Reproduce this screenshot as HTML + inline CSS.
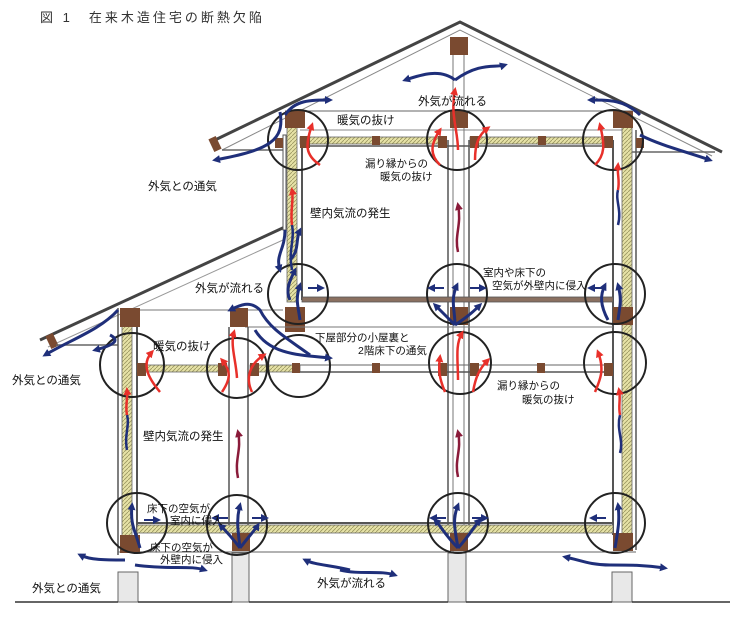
<!DOCTYPE html>
<html><head><meta charset="utf-8">
<style>
html,body{margin:0;padding:0;background:#fff;}
svg{display:block;}
text{font-family:"Liberation Sans","Noto Sans CJK JP",sans-serif;font-size:11.5px;fill:#111;}
</style></head><body>
<svg width="750" height="625" viewBox="0 0 750 625" xmlns="http://www.w3.org/2000/svg">
<defs>
<pattern id="ins" width="4" height="4" patternUnits="userSpaceOnUse">
<rect width="4" height="4" fill="#e6e2a6"/><path d="M0 4L4 0" stroke="#9a9660" stroke-width="0.8"/>
</pattern>
<marker id="ab" markerWidth="8" markerHeight="8" refX="5" refY="4" orient="auto" markerUnits="userSpaceOnUse"><path d="M0 0L8 4L0 8z" fill="#1f2f7a"/></marker>
<marker id="ar" markerWidth="8" markerHeight="8" refX="5" refY="4" orient="auto" markerUnits="userSpaceOnUse"><path d="M0 0L8 4L0 8z" fill="#e8302a"/></marker>
<marker id="am" markerWidth="8" markerHeight="8" refX="5" refY="4" orient="auto" markerUnits="userSpaceOnUse"><path d="M0 0L8 4L0 8z" fill="#8a1b3a"/></marker>
</defs>

<text x="40" y="22" style="font-size:13px;letter-spacing:3px;fill:#333">図 1　在来木造住宅の断熱欠陥</text>

<!-- main roof -->
<path d="M215 140 L460 22 L722 152" fill="none" stroke="#444" stroke-width="3"/>
<path d="M222 150 L460 30 L712 156" fill="none" stroke="#888" stroke-width="1"/>
<rect x="211" y="137" width="8" height="14" fill="#7a4a30" transform="rotate(-25 215 144)"/>
<line x1="222" y1="150" x2="285" y2="150" stroke="#666" stroke-width="1.5"/>
<line x1="632" y1="152" x2="715" y2="152" stroke="#666" stroke-width="1.5"/>
<!-- lower roof -->
<path d="M40 340 L287 226" fill="none" stroke="#444" stroke-width="3"/>
<path d="M48 347 L283 240" fill="none" stroke="#999" stroke-width="1"/>
<rect x="48" y="334" width="8" height="14" fill="#7a4a30" transform="rotate(-25 52 341)"/>
<line x1="56" y1="345" x2="118" y2="345" stroke="#666" stroke-width="1.5"/>

<!-- upper attic lines -->
<line x1="285" y1="111" x2="632" y2="111" stroke="#666" stroke-width="1"/>
<line x1="300" y1="130" x2="632" y2="130" stroke="#888" stroke-width="1"/>
<line x1="453" y1="40" x2="453" y2="600" stroke="#777" stroke-width="1"/>
<line x1="464" y1="40" x2="464" y2="600" stroke="#777" stroke-width="1"/>
<rect x="450" y="37" width="18" height="18" fill="#7a4a30"/>

<!-- upper walls -->
<rect x="283" y="135" width="3" height="95" fill="#fff" stroke="#555" stroke-width="1"/>
<rect x="287" y="127" width="10" height="175" fill="url(#ins)" stroke="#666" stroke-width="0.8"/>
<line x1="302" y1="140" x2="302" y2="300" stroke="#555" stroke-width="2"/>
<line x1="613" y1="140" x2="613" y2="535" stroke="#555" stroke-width="2"/>
<rect x="622" y="127" width="10" height="408" fill="url(#ins)" stroke="#666" stroke-width="0.8"/>
<line x1="636" y1="130" x2="636" y2="550" stroke="#555" stroke-width="1.5"/>
<line x1="448" y1="140" x2="448" y2="535" stroke="#555" stroke-width="1.5"/>
<line x1="469" y1="140" x2="469" y2="535" stroke="#555" stroke-width="1.5"/>
<rect x="285" y="111" width="20" height="17" fill="#7a4a30"/>
<rect x="450" y="111" width="18" height="17" fill="#7a4a30"/>
<rect x="613" y="111" width="20" height="17" fill="#7a4a30"/>
<!-- ceiling insulation -->
<rect x="300" y="137" width="146" height="7" fill="url(#ins)" stroke="#666" stroke-width="0.8"/>
<rect x="470" y="137" width="142" height="7" fill="url(#ins)" stroke="#666" stroke-width="0.8"/>
<line x1="300" y1="146" x2="613" y2="146" stroke="#555" stroke-width="1.5"/>
<rect x="300" y="136" width="10" height="12" fill="#7a4a30"/><rect x="372" y="136" width="8" height="9" fill="#7a4a30"/>
<rect x="438" y="136" width="9" height="12" fill="#7a4a30"/><rect x="470" y="136" width="9" height="12" fill="#7a4a30"/>
<rect x="538" y="136" width="8" height="9" fill="#7a4a30"/><rect x="604" y="136" width="9" height="12" fill="#7a4a30"/>
<rect x="275" y="138" width="8" height="10" fill="#7a4a30"/><rect x="636" y="138" width="8" height="10" fill="#7a4a30"/>
<!-- upper floor -->
<rect x="302" y="297" width="311" height="5" fill="#8a7060" stroke="#555" stroke-width="0.8"/>
<rect x="285" y="307" width="20" height="25" fill="#7a4a30"/>
<rect x="450" y="307" width="18" height="18" fill="#7a4a30"/>
<rect x="613" y="307" width="20" height="18" fill="#7a4a30"/>
<line x1="245" y1="327" x2="613" y2="327" stroke="#777" stroke-width="1"/>
<line x1="140" y1="310" x2="283" y2="310" stroke="#777" stroke-width="1"/>

<!-- lower story -->
<line x1="118" y1="308" x2="118" y2="555" stroke="#555" stroke-width="1.5"/>
<rect x="122" y="325" width="10" height="212" fill="url(#ins)" stroke="#666" stroke-width="0.8"/>
<line x1="137" y1="327" x2="137" y2="535" stroke="#555" stroke-width="2"/>
<rect x="120" y="308" width="20" height="19" fill="#7a4a30"/>
<line x1="229" y1="327" x2="229" y2="535" stroke="#555" stroke-width="1.5"/>
<line x1="248" y1="327" x2="248" y2="535" stroke="#555" stroke-width="1.5"/>
<rect x="230" y="308" width="18" height="19" fill="#7a4a30"/>
<!-- 2F floor joists -->
<rect x="137" y="365" width="90" height="7" fill="url(#ins)" stroke="#666" stroke-width="0.8"/>
<rect x="250" y="365" width="50" height="7" fill="url(#ins)" stroke="#666" stroke-width="0.8"/>
<line x1="300" y1="365" x2="613" y2="365" stroke="#666" stroke-width="1"/>
<line x1="300" y1="372" x2="613" y2="372" stroke="#555" stroke-width="1.5"/>
<rect x="137" y="363" width="9" height="13" fill="#7a4a30"/><rect x="218" y="363" width="9" height="13" fill="#7a4a30"/>
<rect x="250" y="363" width="9" height="13" fill="#7a4a30"/><rect x="292" y="363" width="8" height="10" fill="#7a4a30"/>
<rect x="372" y="363" width="8" height="10" fill="#7a4a30"/><rect x="438" y="363" width="9" height="13" fill="#7a4a30"/>
<rect x="470" y="363" width="9" height="13" fill="#7a4a30"/><rect x="537" y="363" width="8" height="10" fill="#7a4a30"/>
<rect x="604" y="363" width="9" height="13" fill="#7a4a30"/>
<!-- ground floor -->
<rect x="137" y="525" width="476" height="8" fill="url(#ins)" stroke="#666" stroke-width="0.8"/>
<line x1="137" y1="523" x2="613" y2="523" stroke="#555" stroke-width="2"/>
<line x1="118" y1="552" x2="636" y2="552" stroke="#666" stroke-width="1"/>
<rect x="120" y="535" width="20" height="18" fill="#7a4a30"/>
<rect x="232" y="533" width="18" height="18" fill="#7a4a30"/>
<rect x="450" y="533" width="18" height="18" fill="#7a4a30"/>
<rect x="613" y="533" width="20" height="18" fill="#7a4a30"/>
<!-- foundation -->
<g fill="#e8e8e8" stroke="#666" stroke-width="1">
<rect x="118" y="572" width="20" height="30"/>
<rect x="232" y="553" width="17" height="49"/>
<rect x="448" y="553" width="18" height="49"/>
<rect x="612" y="572" width="20" height="30"/>
</g>
<path d="M15 602 H118 M138 602 H232 M249 602 H448 M466 602 H612 M632 602 H730" stroke="#333" stroke-width="1.5"/>

<!-- circles -->
<g fill="none" stroke="#222" stroke-width="2">
<circle cx="298" cy="140" r="30"/><circle cx="457" cy="140" r="30"/><circle cx="613" cy="140" r="30"/>
<circle cx="298" cy="294" r="30"/><circle cx="457" cy="294" r="30"/><circle cx="615" cy="294" r="30"/>
<circle cx="132" cy="365" r="32"/><circle cx="237" cy="368" r="30"/><circle cx="299" cy="366" r="31"/>
<circle cx="460" cy="363" r="31"/><circle cx="615" cy="363" r="31"/>
<circle cx="137" cy="523" r="30"/><circle cx="237" cy="525" r="30"/><circle cx="458" cy="523" r="30"/><circle cx="615" cy="523" r="30"/>
</g>

<!-- blue arrows -->
<g fill="none" stroke="#1f2f7a" stroke-width="3" marker-end="url(#ab)">
<path d="M455 80 C440 68 420 75 405 80"/>
<path d="M455 80 C480 62 495 68 505 65"/>
<path d="M285 115 C295 100 310 100 330 100"/>
<path d="M640 115 C625 100 610 100 590 100"/>
<path d="M280 112 C285 140 270 150 215 160"/>
<path d="M640 135 C660 145 680 150 710 160"/>
<path d="M285 230 C285 250 275 255 280 270"/>
<path d="M290 260 C300 250 295 240 300 230"/>
<path d="M310 355 C290 340 270 330 260 310 C250 300 240 305 230 310"/>
<path d="M255 330 C270 355 300 355 330 358"/>
<path d="M118 310 C100 330 70 340 45 355"/>
<path d="M110 335 C120 340 115 345 95 350"/>
<path d="M125 560 C105 560 90 560 80 555"/>
<path d="M135 565 C170 570 190 565 205 570"/>
<path d="M350 570 C330 565 315 565 305 560"/>
<path d="M340 570 C360 575 380 570 395 575"/>
<path d="M610 565 C590 565 580 560 565 557"/>
<path d="M610 565 C630 565 645 565 665 568"/>
<path d="M458 548 C455 530 452 520 458 505"/>
<path d="M458 548 C445 535 440 525 435 520"/>
<path d="M458 548 C470 535 475 525 480 520"/>
<path d="M240 548 C238 530 236 520 240 505"/>
<path d="M240 548 C230 535 225 530 220 525"/>
<path d="M240 548 C250 535 255 530 258 525"/>
<path d="M140 548 C135 530 130 525 132 505"/>
<path d="M615 548 C618 530 620 520 618 505"/>
<path d="M455 325 C455 310 450 300 457 285"/>
<path d="M455 325 C445 315 440 310 435 305"/>
<path d="M455 325 C470 315 475 310 480 305"/>
<path d="M300 320 C298 305 295 300 300 285"/>
<path d="M618 320 C620 305 622 300 618 285"/>
<path d="M290 300 C285 290 290 280 295 270"/>
<path d="M608 320 C600 305 600 295 605 285"/>
</g>
<g fill="none" stroke="#1f2f7a" stroke-width="2" marker-end="url(#ab)">
<path d="M144 520 H158"/><path d="M228 518 H214"/><path d="M252 518 H266"/>
<path d="M446 518 H432"/><path d="M472 518 H486"/><path d="M606 518 H592"/>
<path d="M308 288 H322"/><path d="M444 288 H430"/><path d="M470 288 H484"/><path d="M605 288 H590"/>
</g>
<!-- wall airflow -->
<g fill="none" stroke-width="2.5">
<path d="M127 450 C124 435 130 425 127 415" stroke="#1f2f7a"/>
<path d="M127 415 C125 405 128 400 127 390" stroke="#e8302a" marker-end="url(#ar)"/>
<path d="M292 270 C288 250 295 240 292 225" stroke="#1f2f7a"/>
<path d="M292 225 C290 210 294 200 292 190" stroke="#e8302a" marker-end="url(#ar)"/>
<path d="M618 225 C622 210 615 200 618 190" stroke="#1f2f7a"/>
<path d="M618 190 C620 180 617 175 618 165" stroke="#e8302a" marker-end="url(#ar)"/>
<path d="M620 453 C624 440 616 430 620 415" stroke="#1f2f7a"/>
<path d="M620 415 C618 405 621 400 619 390" stroke="#e8302a" marker-end="url(#ar)"/>
<path d="M238 478 C234 460 242 450 238 432" stroke="#8a1b3a" marker-end="url(#am)"/>
<path d="M458 477 C454 460 462 450 458 432" stroke="#8a1b3a" marker-end="url(#am)"/>
<path d="M458 252 C454 235 462 225 458 205" stroke="#8a1b3a" marker-end="url(#am)"/>
</g>
<!-- red arrows -->
<g fill="none" stroke="#e8302a" stroke-width="2.5" marker-end="url(#ar)">
<path d="M320 165 C305 155 305 145 312 125"/>
<path d="M440 165 C430 155 430 145 440 130"/>
<path d="M458 150 C458 130 450 115 455 90"/>
<path d="M475 160 C475 145 478 135 488 128"/>
<path d="M595 165 C605 155 605 145 600 125"/>
<path d="M160 392 C150 380 140 365 152 352"/>
<path d="M222 392 C230 380 232 372 222 360"/>
<path d="M237 378 C236 360 230 345 234 332"/>
<path d="M252 392 C246 380 248 365 264 355"/>
<path d="M445 392 C440 380 438 372 440 357"/>
<path d="M458 380 C458 360 455 345 462 333"/>
<path d="M473 392 C475 380 478 370 488 360"/>
<path d="M595 392 C600 380 605 370 598 352"/>
</g>

<!-- labels -->
<text x="418" y="105">外気が流れる</text>
<text x="337" y="124">暖気の抜け</text>
<text x="365" y="167" style="font-size:10.5px">漏り縁からの</text>
<text x="380" y="180" style="font-size:10.5px">暖気の抜け</text>
<text x="148" y="190">外気との通気</text>
<text x="310" y="217">壁内気流の発生</text>
<text x="195" y="292">外気が流れる</text>
<text x="483" y="276" style="font-size:10.5px">室内や床下の</text>
<text x="492" y="289" style="font-size:10.5px">空気が外壁内に侵入</text>
<text x="315" y="341" style="font-size:10.5px">下屋部分の小屋裏と</text>
<text x="358" y="354" style="font-size:10.5px">2階床下の通気</text>
<text x="153" y="350">暖気の抜け</text>
<text x="12" y="384">外気との通気</text>
<text x="497" y="389" style="font-size:10.5px">漏り縁からの</text>
<text x="522" y="403" style="font-size:10.5px">暖気の抜け</text>
<text x="143" y="440">壁内気流の発生</text>
<text x="147" y="512" style="font-size:10.5px">床下の空気が</text>
<text x="170" y="524" style="font-size:10.5px">室内に侵入</text>
<text x="150" y="551" style="font-size:10.5px">床下の空気が</text>
<text x="160" y="563" style="font-size:10.5px">外壁内に侵入</text>
<text x="32" y="592">外気との通気</text>
<text x="317" y="587">外気が流れる</text>
</svg>
</body></html>
